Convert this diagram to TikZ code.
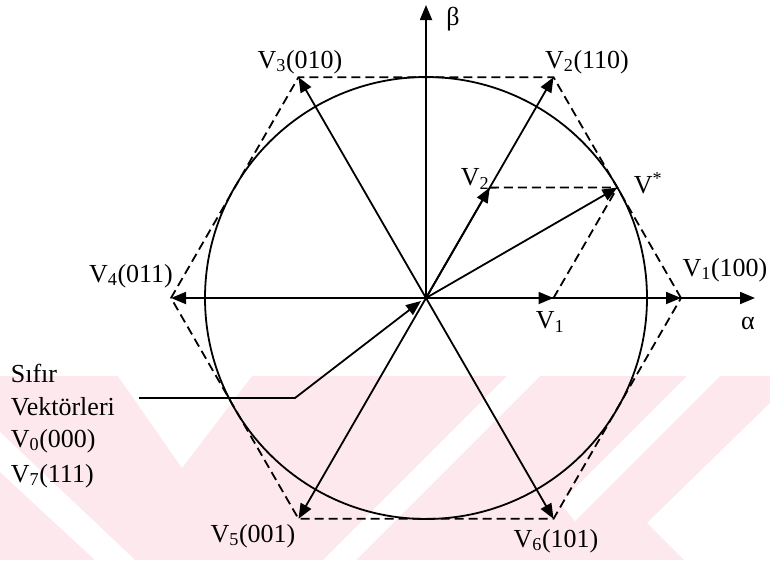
\documentclass[tikz,border=0pt]{standalone}
\usepackage{fontspec}
\setmainfont{Liberation Serif}
\usetikzlibrary{arrows.meta}
\definecolor{wmpink}{RGB}{252,232,237}
\begin{document}
\begin{tikzpicture}[x=1pt,y=-1pt,line width=1.8pt,
  vec/.style={-{Triangle[length=15pt,width=12pt]}},
  dsh/.style={dash pattern=on 9pt off 5pt,line width=1.8pt},
  lbl/.style={font=\fontsize{26}{30}\selectfont,inner sep=0pt}]
\useasboundingbox (0,0) rectangle (770,560);
% watermark
\fill[wmpink] (0,376) rectangle (770,560);
\fill[white] (118,376) -- (252,376) -- (182,468) -- cycle;
\fill[white] (0,432) -- (135,560) -- (95,560) -- (0,472) -- cycle;
\fill[white] (507,376) -- (540,376) -- (356,560) -- (323,560) -- cycle;
\fill[white] (687,376) -- (720,376) -- (575,521) -- (560,503) -- cycle;
\fill[white] (770,403) -- (647,523) -- (684,560) -- (770,560) -- cycle;
% points
\coordinate (O) at (426,298);
\coordinate (H1) at (681,298);
\coordinate (H2) at (553.5,77.2);
\coordinate (H3) at (298.5,77.2);
\coordinate (H4) at (171,298);
\coordinate (H5) at (298.5,518.8);
\coordinate (H6) at (553.5,518.8);
\coordinate (P1) at (553.5,298);
\coordinate (P2) at (489.75,187.6);
\coordinate (VS) at (617.4,187.5);
\coordinate (AE) at (755,298);
\coordinate (BE) at (426,5);
\coordinate (L0) at (139,398);
\coordinate (L1) at (295,398);
\coordinate (LT) at (421,301);
% hexagon and circle
\draw[dsh] (H1) -- (H2) -- (H3) -- (H4) -- (H5) -- (H6) -- cycle;
\draw (O) circle[radius=221pt];
% axes
\draw[vec] (O) -- (AE);
\draw[vec] (O) -- (BE);
% vectors
\foreach \h in {H1,H2,H3,H4,H5,H6} \draw[vec] (O) -- (\h);
\draw[vec] (O) -- (P1);
\draw[vec] (O) -- (P2);
\draw[vec] (O) -- (VS);
\draw[dsh] (P2) -- (VS);
\draw[dsh] (P1) -- (VS);
\draw[vec] (L0) -- (L1) -- (LT);
% labels
\node[lbl] (lb) at (453,19) {β};
\node[lbl] (la) at (748,323) {α};
\node[lbl] (l1) at (725,270) {V\textsubscript{1}(100)};
\node[lbl] (l2) at (587,62) {V\textsubscript{2}(110)};
\node[lbl] (l3) at (300,62) {V\textsubscript{3}(010)};
\node[lbl] (l4) at (131,276) {V\textsubscript{4}(011)};
\node[lbl] (l5) at (253,536) {V\textsubscript{5}(001)};
\node[lbl] (l6) at (556,541) {V\textsubscript{6}(101)};
\node[lbl] (lv1) at (550,322) {V\textsubscript{1}};
\node[lbl] (lv2) at (475,179) {V\textsubscript{2}};
\node[lbl] (lvs) at (648,183) {V\textsuperscript{*}};
\node[lbl,anchor=base west] (t1) at (10,382) {Sıfır};
\node[lbl,anchor=base west] (t2) at (10,415) {Vektörleri};
\node[lbl,anchor=base west] (t3) at (10,447) {V\textsubscript{0}(000)};
\node[lbl,anchor=base west] (t4) at (10,482) {V\textsubscript{7}(111)};
\end{tikzpicture}
\end{document}
